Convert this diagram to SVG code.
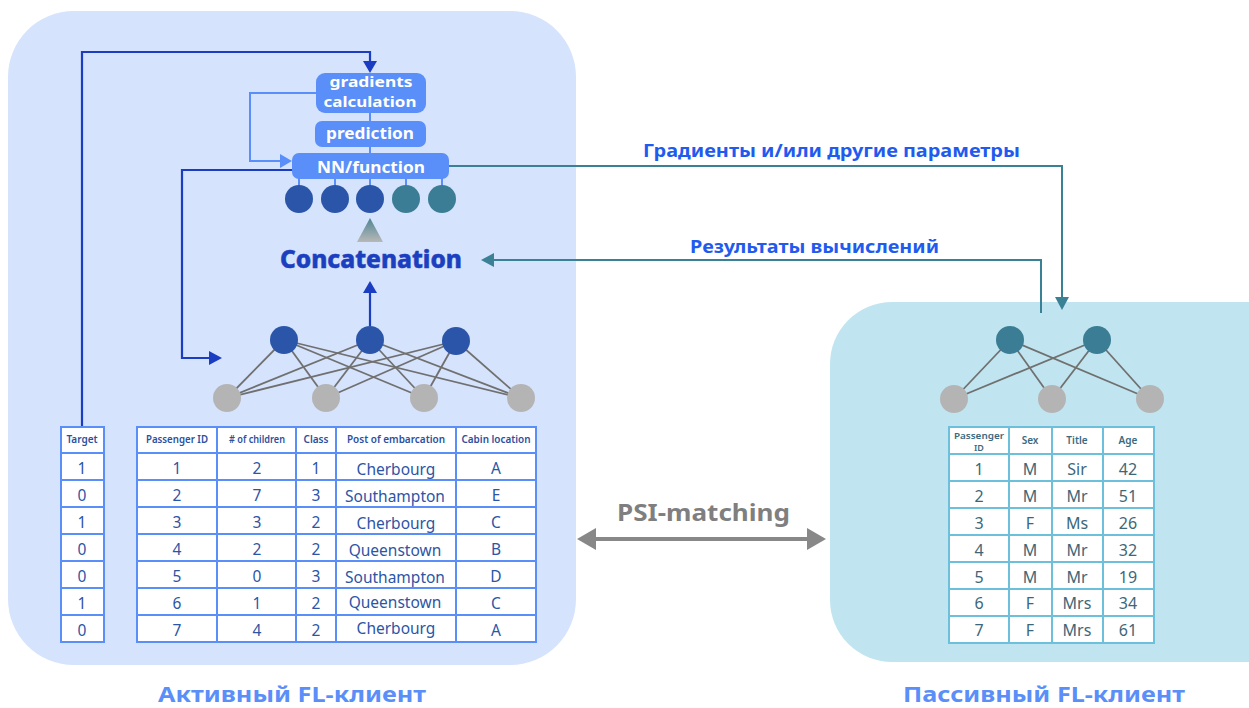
<svg xmlns="http://www.w3.org/2000/svg" width="1249" height="708" viewBox="0 0 1249 708">
<defs>
<linearGradient id="tri" x1="0" y1="0" x2="0" y2="1">
<stop offset="0" stop-color="#4f8593"/>
<stop offset="1" stop-color="#b8b8b8"/>
</linearGradient>
<style>
text{font-family:"Noto Sans","Open Sans","Liberation Sans",sans-serif;text-anchor:middle}
.box{fill:#5a8ef8}
.bt{fill:#fff;font-weight:700;font-size:16px}
.dn{fill:#2b55a8}
.tn{fill:#3a7d94}
.gn{fill:#b4b4b4}
.edge{stroke:#707070;stroke-width:1.8}
.cell{fill:#fff;stroke:#5a8ef8;stroke-width:2}
.hd{fill:#2c4fa0;font-size:10px;font-weight:600}
.td{fill:#2c55a6;font-size:15.5px}
.rhd{fill:#3b6a80;font-size:10px;font-weight:600}
.rtd{fill:#3d6778;font-size:16px}
.db{stroke:#1a3dc2;stroke-width:2.2;fill:none}
.lb{stroke:#5a8ef8;stroke-width:2;fill:none}
.tl{stroke:#3a8196;stroke-width:2;fill:none}
.lbl{fill:#1f5bef;font-weight:700;font-size:17px;text-anchor:start}
.cap{fill:#5a8ef8;font-weight:700;font-size:21px;text-anchor:start}
</style>
</defs>
<rect width="1249" height="708" fill="#fff"/>
<rect id="active-panel" x="8" y="11" width="568" height="654" rx="66" fill="#d5e3fc"/>
<rect id="passive-panel" x="830" y="302" width="480" height="360" rx="62" fill="#c1e5f0"/>

<g id="connectors">
<path class="db" d="M82,427 V52 H370 V62"/>
<polygon points="363,61 377,61 370,73" fill="#1a3dc2"/>
<path class="lb" d="M316,93 H250 V161 H281"/>
<polygon points="280,154 280,168 292,161" fill="#5a8ef8"/>
<path class="db" d="M292,170 H182 V358 H210"/>
<polygon points="209,351 209,365 222,358" fill="#1a3dc2"/>
<path class="db" d="M370,326 V292"/>
<polygon points="363,293 377,293 370,281" fill="#1a3dc2"/>
<path class="tl" d="M449,166 H1062 V298"/>
<polygon points="1055,297 1069,297 1062,310" fill="#3a8196"/>
<path class="tl" d="M1041,313 V260 H493"/>
<polygon points="494,253 494,267 481,260" fill="#3a8196"/>
<line x1="370" y1="113" x2="370" y2="121" stroke="#5a8ef8" stroke-width="2"/>
<line x1="370" y1="147" x2="370" y2="153" stroke="#5a8ef8" stroke-width="2"/>
<g stroke="#5a8ef8" stroke-width="2">
<line x1="299" y1="178" x2="299" y2="186"/>
<line x1="335" y1="178" x2="335" y2="186"/>
<line x1="370" y1="178" x2="370" y2="186"/>
<line x1="406" y1="178" x2="406" y2="186"/>
<line x1="442" y1="178" x2="442" y2="186"/>
</g>
<line x1="594" y1="539" x2="809" y2="539" stroke="#888" stroke-width="4"/>
<polygon points="577,539 596,528 596,550" fill="#888"/>
<polygon points="826,539 807,528 807,550" fill="#888"/>
</g>

<g id="gradients-calculation">
<rect class="box" x="316" y="73" width="110" height="40" rx="9"/>
<text class="bt" x="371" y="87" style="font-size:14px" textLength="83" lengthAdjust="spacingAndGlyphs">gradients</text>
<text class="bt" x="370" y="107" style="font-size:14px" textLength="93" lengthAdjust="spacingAndGlyphs">calculation</text>
</g>
<g id="prediction">
<rect class="box" x="315" y="121" width="111" height="26" rx="7"/>
<text class="bt" x="370" y="139" textLength="88" lengthAdjust="spacingAndGlyphs">prediction</text>
</g>
<g id="nn-function">
<rect class="box" x="292" y="153" width="157" height="26" rx="7"/>
<text class="bt" x="371" y="173" textLength="108" lengthAdjust="spacingAndGlyphs">NN/function</text>
</g>
<g id="output-nodes">
<circle class="dn" cx="299" cy="199" r="14"/>
<circle class="dn" cx="335" cy="199" r="14"/>
<circle class="dn" cx="370" cy="199" r="14"/>
<circle class="tn" cx="406" cy="199" r="14"/>
<circle class="tn" cx="442" cy="199" r="14"/>
</g>
<g id="concatenation">
<polygon points="370,218 383,242 357,242" fill="url(#tri)"/>
<text x="280" y="268" style="text-anchor:start;font-weight:800;font-size:25px;fill:#1c3fbf;stroke:#1c3fbf;stroke-width:0.5" textLength="182" lengthAdjust="spacingAndGlyphs">Concatenation</text>
</g>

<g id="active-network">
<g class="edge">
<line x1="284" y1="340" x2="227" y2="398"/><line x1="284" y1="340" x2="326" y2="398"/><line x1="284" y1="340" x2="424" y2="398"/><line x1="284" y1="340" x2="521" y2="398"/>
<line x1="370" y1="340" x2="227" y2="398"/><line x1="370" y1="340" x2="326" y2="398"/><line x1="370" y1="340" x2="424" y2="398"/><line x1="370" y1="340" x2="521" y2="398"/>
<line x1="456" y1="341" x2="227" y2="398"/><line x1="456" y1="341" x2="326" y2="398"/><line x1="456" y1="341" x2="424" y2="398"/><line x1="456" y1="341" x2="521" y2="398"/>
</g>
<circle class="dn" cx="284" cy="340" r="14"/>
<circle class="dn" cx="370" cy="340" r="14"/>
<circle class="dn" cx="456" cy="341" r="14"/>
<circle class="gn" cx="227" cy="398" r="14"/>
<circle class="gn" cx="326" cy="398" r="14"/>
<circle class="gn" cx="424" cy="398" r="14"/>
<circle class="gn" cx="521" cy="398" r="14"/>
</g>

<g id="target-table">
<rect class="cell" x="61" y="427" width="43" height="26"/>
<rect class="cell" x="61" y="453" width="43" height="27"/>
<rect class="cell" x="61" y="480" width="43" height="27"/>
<rect class="cell" x="61" y="507" width="43" height="27"/>
<rect class="cell" x="61" y="534" width="43" height="27"/>
<rect class="cell" x="61" y="561" width="43" height="27"/>
<rect class="cell" x="61" y="588" width="43" height="27"/>
<rect class="cell" x="61" y="615" width="43" height="27"/>
<text class="hd" x="82" y="443">Target</text>
<text class="td" x="82" y="474">1</text>
<text class="td" x="82" y="501">0</text>
<text class="td" x="82" y="528">1</text>
<text class="td" x="82" y="555">0</text>
<text class="td" x="82" y="582">0</text>
<text class="td" x="82" y="609">1</text>
<text class="td" x="82" y="636">0</text>
</g>

<g id="passenger-table">
<g fill="none" stroke="#5a8ef8" stroke-width="2">
<rect x="137" y="427" width="399" height="215" fill="#fff"/>
<path d="M137,453 H536 M137,480 H536 M137,507 H536 M137,534 H536 M137,561 H536 M137,588 H536 M137,615 H536 M217,427 V642 M296,427 V642 M336,427 V642 M456,427 V642"/>
</g>
<text class="hd" x="177" y="443" textLength="62" lengthAdjust="spacingAndGlyphs">Passenger ID</text>
<text class="hd" x="257" y="443" textLength="56" lengthAdjust="spacingAndGlyphs"># of children</text>
<text class="hd" x="316" y="443">Class</text>
<text class="hd" x="396" y="443" textLength="98" lengthAdjust="spacingAndGlyphs">Post of embarcation</text>
<text class="hd" x="496" y="443" textLength="69" lengthAdjust="spacingAndGlyphs">Cabin location</text>
<text class="td" x="177" y="474">1</text><text class="td" x="257" y="474">2</text><text class="td" x="316" y="474">1</text><text class="td" x="396" y="475">Cherbourg</text><text class="td" x="496" y="474">A</text>
<text class="td" x="177" y="501">2</text><text class="td" x="257" y="501">7</text><text class="td" x="316" y="501">3</text><text class="td" x="395" y="502">Southampton</text><text class="td" x="496" y="501">E</text>
<text class="td" x="177" y="528">3</text><text class="td" x="257" y="528">3</text><text class="td" x="316" y="528">2</text><text class="td" x="396" y="529">Cherbourg</text><text class="td" x="496" y="528">C</text>
<text class="td" x="177" y="555">4</text><text class="td" x="257" y="555">2</text><text class="td" x="316" y="555">2</text><text class="td" x="395" y="556">Queenstown</text><text class="td" x="496" y="555">B</text>
<text class="td" x="177" y="582">5</text><text class="td" x="257" y="582">0</text><text class="td" x="316" y="582">3</text><text class="td" x="395" y="583">Southampton</text><text class="td" x="496" y="582">D</text>
<text class="td" x="177" y="609">6</text><text class="td" x="257" y="609">1</text><text class="td" x="316" y="609">2</text><text class="td" x="395" y="608">Queenstown</text><text class="td" x="496" y="609">C</text>
<text class="td" x="177" y="636">7</text><text class="td" x="257" y="636">4</text><text class="td" x="316" y="636">2</text><text class="td" x="396" y="634">Cherbourg</text><text class="td" x="496" y="636">A</text>
</g>

<g id="passive-network">
<g class="edge">
<line x1="1010" y1="340" x2="954" y2="399"/><line x1="1010" y1="340" x2="1052" y2="399"/><line x1="1010" y1="340" x2="1150" y2="399"/>
<line x1="1097" y1="340" x2="954" y2="399"/><line x1="1097" y1="340" x2="1052" y2="399"/><line x1="1097" y1="340" x2="1150" y2="399"/>
</g>
<circle class="tn" cx="1010" cy="340" r="14"/>
<circle class="tn" cx="1097" cy="340" r="14"/>
<circle class="gn" cx="954" cy="399" r="14"/>
<circle class="gn" cx="1052" cy="399" r="14"/>
<circle class="gn" cx="1150" cy="399" r="14"/>
</g>

<g id="passive-table">
<g fill="none" stroke="#6cc0db" stroke-width="2">
<rect x="949" y="427" width="205" height="216" fill="#fff"/>
<path d="M949,454 H1154 M949,481 H1154 M949,508 H1154 M949,535 H1154 M949,562 H1154 M949,589 H1154 M949,616 H1154 M1009,427 V643 M1052,427 V643 M1103,427 V643"/>
</g>
<text class="rhd" x="979" y="439" style="font-size:9px" textLength="50" lengthAdjust="spacingAndGlyphs">Passenger</text>
<text class="rhd" x="979" y="451" style="font-size:9px">ID</text>
<text class="rhd" x="1030" y="444">Sex</text>
<text class="rhd" x="1077" y="444">Title</text>
<text class="rhd" x="1128" y="444">Age</text>
<text class="rtd" x="979" y="475">1</text><text class="rtd" x="1030" y="475">M</text><text class="rtd" x="1077" y="475">Sir</text><text class="rtd" x="1128" y="475">42</text>
<text class="rtd" x="979" y="502">2</text><text class="rtd" x="1030" y="502">M</text><text class="rtd" x="1077" y="502">Mr</text><text class="rtd" x="1128" y="502">51</text>
<text class="rtd" x="979" y="529">3</text><text class="rtd" x="1030" y="529">F</text><text class="rtd" x="1077" y="529">Ms</text><text class="rtd" x="1128" y="529">26</text>
<text class="rtd" x="979" y="556">4</text><text class="rtd" x="1030" y="556">M</text><text class="rtd" x="1077" y="556">Mr</text><text class="rtd" x="1128" y="556">32</text>
<text class="rtd" x="979" y="583">5</text><text class="rtd" x="1030" y="583">M</text><text class="rtd" x="1077" y="583">Mr</text><text class="rtd" x="1128" y="583">19</text>
<text class="rtd" x="979" y="609">6</text><text class="rtd" x="1030" y="609">F</text><text class="rtd" x="1077" y="609">Mrs</text><text class="rtd" x="1128" y="609">34</text>
<text class="rtd" x="979" y="636">7</text><text class="rtd" x="1030" y="636">F</text><text class="rtd" x="1077" y="636">Mrs</text><text class="rtd" x="1128" y="636">61</text>
</g>

<g id="labels">
<text class="lbl" x="643" y="157" textLength="377" lengthAdjust="spacingAndGlyphs">Градиенты и/или другие параметры</text>
<text class="lbl" x="690" y="253" textLength="249" lengthAdjust="spacingAndGlyphs">Результаты вычислений</text>
<text x="617" y="521" style="text-anchor:start;font-weight:700;font-size:24px;fill:#7f7f7f" textLength="173" lengthAdjust="spacingAndGlyphs">PSI-matching</text>
<text class="cap" x="158" y="702" textLength="268" lengthAdjust="spacingAndGlyphs">Активный FL-клиент</text>
<text class="cap" x="903" y="702" textLength="282" lengthAdjust="spacingAndGlyphs">Пассивный FL-клиент</text>
</g>
</svg>
